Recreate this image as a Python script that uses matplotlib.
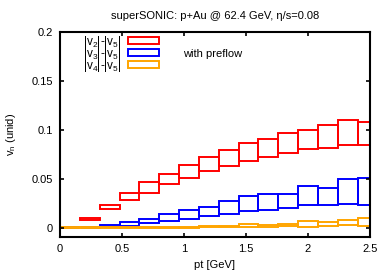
import matplotlib
matplotlib.use('Agg')
from matplotlib import pyplot as plt
from matplotlib.patches import Rectangle
from matplotlib.ticker import FormatStrFormatter
import numpy as np

# pt bins (left edges), width 0.16 GeV
bin_edges = [0.00, 0.16, 0.32, 0.48, 0.64, 0.80, 0.96, 1.12,
             1.28, 1.44, 1.60, 1.76, 1.92, 2.08, 2.24, 2.40]
bin_width = 0.16

# |v2|-|v5| band (low, high)
v2_lo = [0.0003, 0.0075, 0.0184, 0.0276, 0.0353, 0.0442, 0.0503, 0.0580,
         0.0629, 0.0677, 0.0718, 0.0761, 0.0799, 0.0812, 0.0840, 0.0847]
v2_hi = [0.0010, 0.0098, 0.0235, 0.0353, 0.0460, 0.0547, 0.0636, 0.0720,
         0.0789, 0.0861, 0.0901, 0.0962, 0.0993, 0.1051, 0.1102, 0.1078]

# |v3|-|v5|
v3_lo = [-0.0003, -0.0002, 0.0007, 0.0020, 0.0044, 0.0064, 0.0085, 0.0119,
         0.0143, 0.0167, 0.0177, 0.0204, 0.0235, 0.0235, 0.0241, 0.0225]
v3_hi = [0.0004, 0.0005, 0.0024, 0.0061, 0.0092, 0.0136, 0.0174, 0.0212,
         0.0272, 0.0320, 0.0343, 0.0347, 0.0425, 0.0408, 0.0493, 0.0506]

# |v4|-|v5|
v4_lo = [-0.0006, -0.0006, -0.0005, -0.0005, -0.0004, -0.0004, -0.0003, 0.0002,
         0.0002, 0.0006, 0.0006, 0.0016, 0.0006, 0.0016, 0.0024, 0.0015]
v4_hi = [0.0004, 0.0004, 0.0005, 0.0005, 0.0005, 0.0006, 0.0006, 0.0013,
         0.0015, 0.0034, 0.0026, 0.0040, 0.0068, 0.0058, 0.0080, 0.0093]

labels = [r'$|v_2|$-$|v_5|$', r'$|v_3|$-$|v_5|$', r'$|v_4|$-$|v_5|$']
colors = ['#ff0000', '#0000ff', '#ffa500']

plt.rcParams['font.family'] = ['Liberation Sans', 'DejaVu Sans']
plt.rcParams['mathtext.default'] = 'regular'

fig = plt.figure(figsize=(3.9, 2.73), dpi=100)
ax = fig.add_axes([60/390, 1 - 237.3/273, 310/390, 205.6/273])

series = [(v2_lo, v2_hi), (v3_lo, v3_hi), (v4_lo, v4_hi)]
for (lo, hi), c in zip(series, colors):
    lo = np.array(lo)
    hi = np.array(hi)
    ax.bar(bin_edges, hi - lo, width=bin_width, bottom=lo, align='edge',
           fill=False, edgecolor=c, linewidth=1.4)

ax.set_xlim(0, 2.5)
ax.set_ylim(-0.01, 0.2)
ax.set_xticks([0, 0.5, 1, 1.5, 2, 2.5])
ax.set_yticks([0, 0.05, 0.1, 0.15, 0.2])
ax.xaxis.set_major_formatter(FormatStrFormatter('%g'))
ax.yaxis.set_major_formatter(FormatStrFormatter('%g'))
ax.tick_params(direction='in', top=True, right=True, length=3, width=1.2,
               labelsize=8, pad=5)
for s in ax.spines.values():
    s.set_linewidth(1.5)

ax.set_title('superSONIC: p+Au @ 62.4 GeV, η/s=0.08', fontsize=8, pad=9)
ax.set_xlabel('pt [GeV]', fontsize=8, labelpad=4)
ax.set_ylabel('v$_n$ (unid)', fontsize=8, labelpad=10)

handles = [Rectangle((0, 0), 1, 1, facecolor='none', edgecolor=c, linewidth=1.4)
           for c in colors]
ax.legend(handles, labels, loc='upper left', bbox_to_anchor=(83/390, 1 - 34/273),
          bbox_transform=fig.transFigure, frameon=False, markerfirst=False,
          fontsize=8.5, handlelength=2.6, handleheight=0.5, labelspacing=-0.34,
          handletextpad=0.5, borderpad=0, borderaxespad=0)

fig.text(183/390, 1 - 54/273, 'with preflow', fontsize=8, va='center')

fig.savefig('out.png', dpi=100)
